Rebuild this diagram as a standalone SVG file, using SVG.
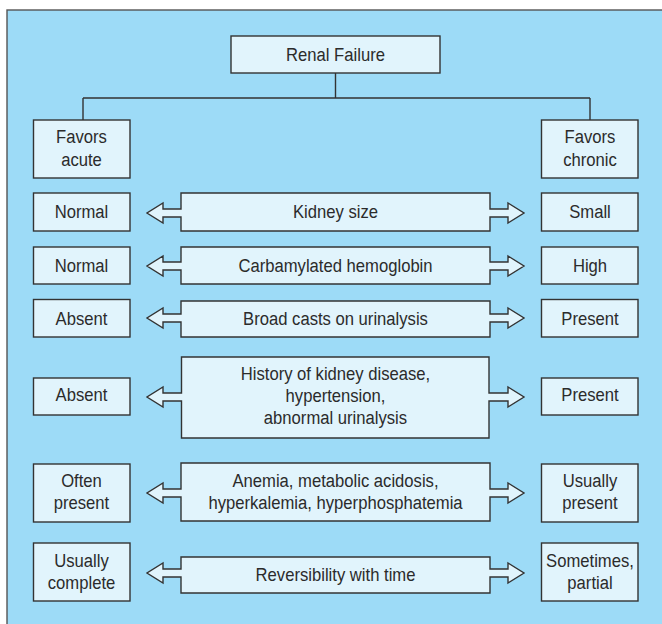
<svg xmlns="http://www.w3.org/2000/svg" width="662" height="624" viewBox="0 0 662 624">
<style>
.box{fill:#e1f4fc;stroke:#333;stroke-width:1.4}
.con{fill:none;stroke:#333;stroke-width:1.4}
text{font-family:"Liberation Sans",Arial,sans-serif;font-size:18.5px;fill:#2b2b2b;text-anchor:middle}
</style>
<rect x="7" y="10" width="700" height="700" fill="#9ddbf7" stroke="#555" stroke-width="1.4"/>
<g id="connectors">
<path class="con" d="M335.5,73 V98 M83,98 H590 M83,98 V120 M590,98 V120"/>
</g>
<g id="renal-failure"><rect class="box" x="231" y="36" width="209" height="37"/><g transform="translate(335.5,0) scale(0.9,1)"><text x="0" y="61">Renal Failure</text></g></g>
<g id="favors-acute"><rect class="box" x="33.5" y="120" width="96.5" height="58"/><g transform="translate(81.5,0) scale(0.9,1)"><text x="0" y="143.5">Favors</text><text x="0" y="166">acute</text></g></g>
<g id="favors-chronic"><rect class="box" x="541.5" y="120" width="96.5" height="58"/><g transform="translate(590,0) scale(0.9,1)"><text x="0" y="143.5">Favors</text><text x="0" y="166">chronic</text></g></g>

<g id="row1-left"><rect class="box" x="33.5" y="193" width="96.5" height="38"/><g transform="translate(81.5,0) scale(0.9,1)"><text x="0" y="218.5">Normal</text></g></g>
<g id="row1-center"><path class="box" d="M181,193 H490 V209 H508 V203 L524,213 L508,223 V217 H490 V231 H181 V217 H163 V223 L147,213 L163,203 V209 H181 Z"/><g transform="translate(335.5,0) scale(0.9,1)"><text x="0" y="218.5">Kidney size</text></g></g>
<g id="row1-right"><rect class="box" x="541.5" y="193" width="96.5" height="38"/><g transform="translate(590,0) scale(0.9,1)"><text x="0" y="218.5">Small</text></g></g>

<g id="row2-left"><rect class="box" x="33.5" y="247" width="96.5" height="37"/><g transform="translate(81.5,0) scale(0.9,1)"><text x="0" y="272">Normal</text></g></g>
<g id="row2-center"><path class="box" d="M181,247 H490 V262 H508 V256 L524,266 L508,276 V270 H490 V284 H181 V270 H163 V276 L147,266 L163,256 V262 H181 Z"/><g transform="translate(335.5,0) scale(0.9,1)"><text x="0" y="272">Carbamylated hemoglobin</text></g></g>
<g id="row2-right"><rect class="box" x="541.5" y="247" width="96.5" height="37"/><g transform="translate(590,0) scale(0.9,1)"><text x="0" y="272">High</text></g></g>

<g id="row3-left"><rect class="box" x="33.5" y="299.5" width="96.5" height="37.5"/><g transform="translate(81.5,0) scale(0.9,1)"><text x="0" y="325">Absent</text></g></g>
<g id="row3-center"><path class="box" d="M181,301 H490 V314 H508 V308 L524,318 L508,328 V322 H490 V337 H181 V322 H163 V328 L147,318 L163,308 V314 H181 Z"/><g transform="translate(335.5,0) scale(0.9,1)"><text x="0" y="325">Broad casts on urinalysis</text></g></g>
<g id="row3-right"><rect class="box" x="541.5" y="299.5" width="96.5" height="37.5"/><g transform="translate(590,0) scale(0.9,1)"><text x="0" y="325">Present</text></g></g>

<g id="row4-left"><rect class="box" x="33.5" y="378" width="96.5" height="37"/><g transform="translate(81.5,0) scale(0.9,1)"><text x="0" y="401.5">Absent</text></g></g>
<g id="row4-center"><path class="box" d="M181.5,357 H489 V393 H508 V387 L524,397 L508,407 V401 H489 V438 H181.5 V401 H163 V407 L147,397 L163,387 V393 H181.5 Z"/><g transform="translate(335.5,0) scale(0.9,1)"><text x="0" y="380">History of kidney disease,</text><text x="0" y="402">hypertension,</text><text x="0" y="424">abnormal urinalysis</text></g></g>
<g id="row4-right"><rect class="box" x="541.5" y="378" width="96.5" height="37"/><g transform="translate(590,0) scale(0.9,1)"><text x="0" y="401.5">Present</text></g></g>

<g id="row5-left"><rect class="box" x="33.5" y="464" width="96.5" height="58"/><g transform="translate(81.5,0) scale(0.9,1)"><text x="0" y="487.5">Often</text><text x="0" y="509">present</text></g></g>
<g id="row5-center"><path class="box" d="M181,463 H490 V489 H508 V483 L524,493 L508,503 V497 H490 V521 H181 V497 H163 V503 L147,493 L163,483 V489 H181 Z"/><g transform="translate(335.5,0) scale(0.9,1)"><text x="0" y="487.5">Anemia, metabolic acidosis,</text><text x="0" y="509">hyperkalemia, hyperphosphatemia</text></g></g>
<g id="row5-right"><rect class="box" x="541.5" y="464" width="96.5" height="58"/><g transform="translate(590,0) scale(0.9,1)"><text x="0" y="487.5">Usually</text><text x="0" y="509">present</text></g></g>

<g id="row6-left"><rect class="box" x="33.5" y="543" width="96.5" height="58"/><g transform="translate(81.5,0) scale(0.9,1)"><text x="0" y="567">Usually</text><text x="0" y="589">complete</text></g></g>
<g id="row6-center"><path class="box" d="M181,557 H490 V569 H508 V563 L524,573 L508,583 V577 H490 V593 H181 V577 H163 V583 L147,573 L163,563 V569 H181 Z"/><g transform="translate(335.5,0) scale(0.9,1)"><text x="0" y="581">Reversibility with time</text></g></g>
<g id="row6-right"><rect class="box" x="541.5" y="543" width="96.5" height="58"/><g transform="translate(590,0) scale(0.9,1)"><text x="0" y="567">Sometimes,</text><text x="0" y="589">partial</text></g></g>
</svg>
